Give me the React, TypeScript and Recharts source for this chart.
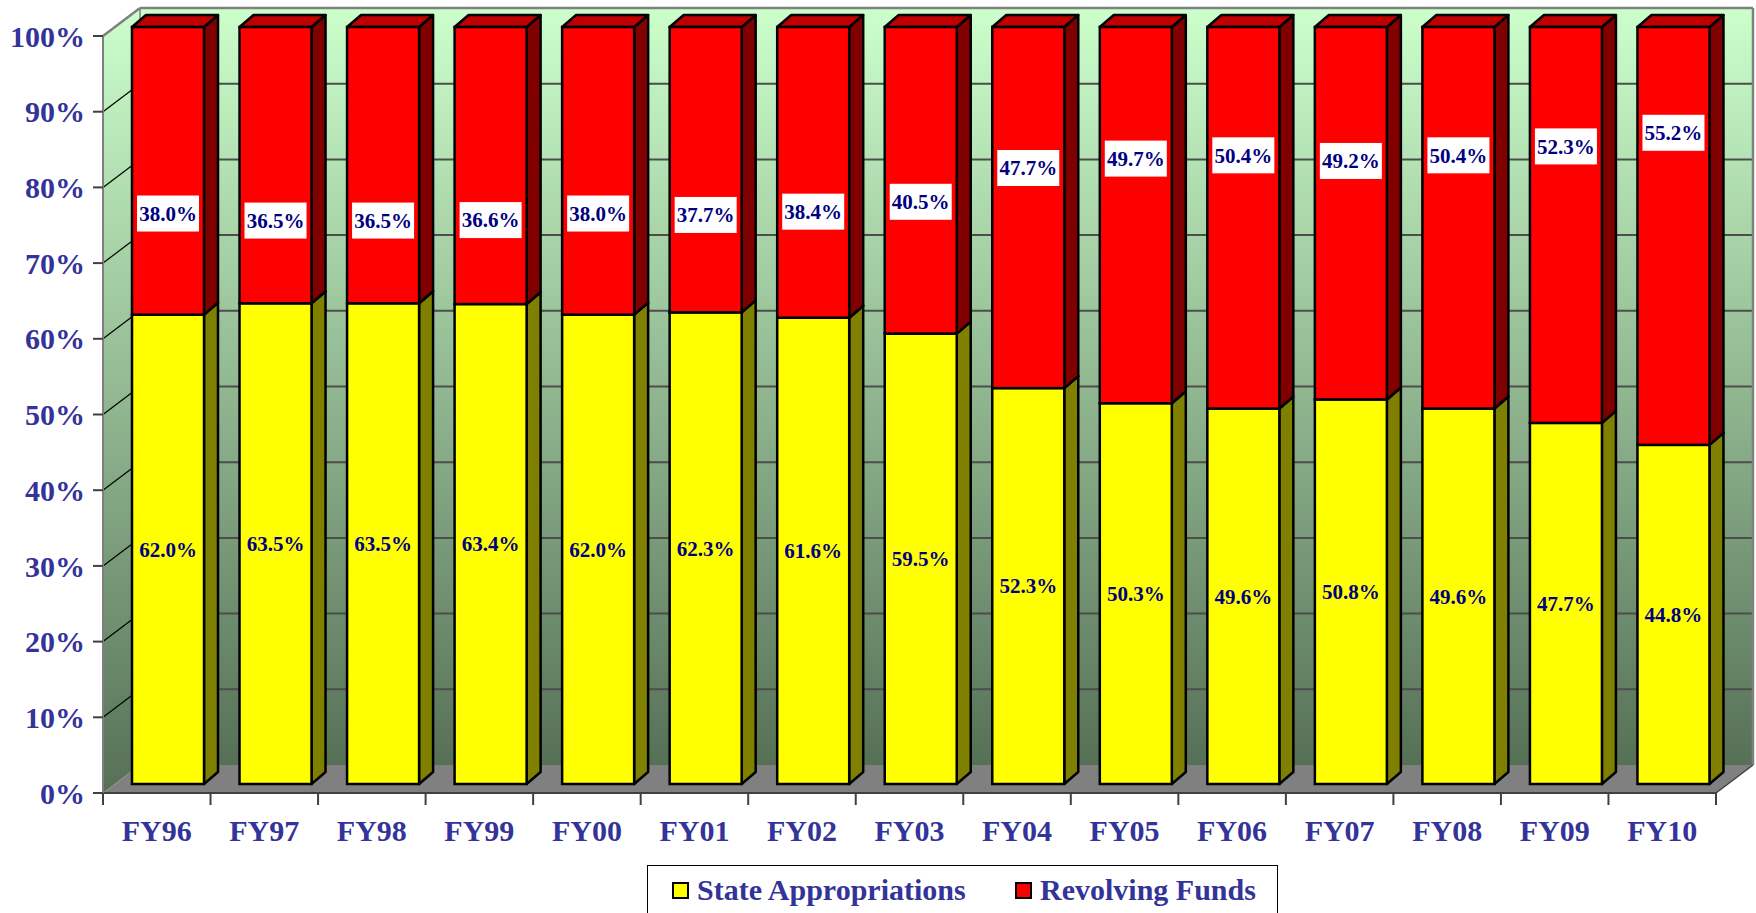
import React from "react";
import * as R from "recharts";
import { Bar, BarChart, Customized, LabelList, Legend, XAxis, YAxis } from "recharts";

const years = ["FY96", "FY97", "FY98", "FY99", "FY00", "FY01", "FY02", "FY03", "FY04", "FY05", "FY06", "FY07", "FY08", "FY09", "FY10"];
const stateAppropriations = [62.0, 63.5, 63.5, 63.4, 62.0, 62.3, 61.6, 59.5, 52.3, 50.3, 49.6, 50.8, 49.6, 47.7, 44.8];
const revolvingFunds = [38.0, 36.5, 36.5, 36.6, 38.0, 37.7, 38.4, 40.5, 47.7, 49.7, 50.4, 49.2, 50.4, 52.3, 55.2];
const yTicks = [0, 10, 20, 30, 40, 50, 60, 70, 80, 90, 100];
const seriesNames = ["State Appropriations", "Revolving Funds"];

const data = years.map((year, i) => ({
  year,
  state: stateAppropriations[i],
  revolving: revolvingFunds[i],
}));

const W = 1756;
const H = 913;
const MARGIN = { top: 36, right: 40, bottom: 60, left: 0 };
const Y_AXIS_W = 103;
const X_AXIS_H = 60;
const PLOT_LEFT = MARGIN.left + Y_AXIS_W;
const PLOT_TOP = MARGIN.top;
const PLOT_W = W - MARGIN.right - PLOT_LEFT;
const PLOT_H = H - MARGIN.bottom - X_AXIS_H - PLOT_TOP;
const PLOT_BOTTOM = PLOT_TOP + PLOT_H;

// fake 3d: walls sit behind the front plane, bars half way in
const WALL_DX = 37;
const WALL_DY = 28;
const BAR_DX = 11;
const BAR_DY = 9;
const DEPTH_DX = 14;
const DEPTH_DY = 12;
const OUTLINE = 2.5;

const SERIF = "'Liberation Serif', 'Times New Roman', serif";
const AXIS_BLUE = "#333399";
const LABEL_NAVY = "#000080";

const usePlot: () => any = (R as any).usePlotArea || (() => null);

function Walls() {
  const area = usePlot();
  const x = area?.x ?? PLOT_LEFT;
  const y = area?.y ?? PLOT_TOP;
  const width = area?.width ?? PLOT_W;
  const height = area?.height ?? PLOT_H;
  const bx = x + WALL_DX;
  const by = y - WALL_DY;
  const bottom = y + height;
  const tickY = (t: number) => y + height * (1 - t / 100);
  const inner = yTicks.filter((t) => t > 0 && t < 100);
  return (
    <g>
      <defs>
        <linearGradient id="wallFill" x1="0" y1="0" x2="0" y2="1">
          <stop offset="0%" stopColor="#CCFFCC" />
          <stop offset="100%" stopColor="#567056" />
        </linearGradient>
      </defs>
      <rect x={bx} y={by} width={width} height={height} fill="url(#wallFill)" />
      <polygon
        points={`${x},${y} ${bx},${by} ${bx},${by + height} ${x},${bottom}`}
        fill="url(#wallFill)"
      />
      <polygon
        points={`${x},${bottom} ${bx},${by + height} ${bx + width},${by + height} ${x + width},${bottom}`}
        fill="#808080"
      />
      {inner.map((t) => (
        <line
          key={"b" + t}
          x1={bx}
          x2={bx + width}
          y1={tickY(t) - WALL_DY}
          y2={tickY(t) - WALL_DY}
          stroke="#4d4d4d"
          strokeWidth={2}
        />
      ))}
      {inner.map((t) => (
        <line
          key={"l" + t}
          x1={x}
          y1={tickY(t)}
          x2={bx}
          y2={tickY(t) - WALL_DY}
          stroke="#000"
          strokeWidth={1.2}
        />
      ))}
      <line x1={bx} y1={by} x2={bx} y2={by + height} stroke="#808080" strokeWidth={1.5} />
      <line x1={x} y1={y} x2={bx} y2={by} stroke="#808080" strokeWidth={2.5} />
      <line x1={bx} y1={by} x2={bx + width} y2={by} stroke="#808080" strokeWidth={2.5} />
      <line x1={bx + width} y1={by} x2={bx + width} y2={by + height} stroke="#808080" strokeWidth={2.5} />
      <line x1={x + width} y1={bottom} x2={bx + width} y2={by + height} stroke="#404040" strokeWidth={1.5} />
    </g>
  );
}

const makeShape = (front: string, side: string, top: string) => (props: any) => {
  const { x, y, width, height } = props;
  if (width == null || height == null || isNaN(x) || isNaN(y)) return <g />;
  const fx = x + BAR_DX;
  const fy = y - BAR_DY;
  const w = width;
  const h = height;
  return (
    <g>
      <polygon
        points={`${fx + w},${fy} ${fx + w + DEPTH_DX},${fy - DEPTH_DY} ${fx + w + DEPTH_DX},${fy + h - DEPTH_DY} ${fx + w},${fy + h}`}
        fill={side}
        stroke="#000"
        strokeWidth={OUTLINE}
        strokeLinejoin="round"
      />
      <polygon
        points={`${fx},${fy} ${fx + DEPTH_DX},${fy - DEPTH_DY} ${fx + w + DEPTH_DX},${fy - DEPTH_DY} ${fx + w},${fy}`}
        fill={top}
        stroke="#000"
        strokeWidth={OUTLINE}
        strokeLinejoin="round"
      />
      <rect x={fx} y={fy} width={w} height={h} fill={front} stroke="#000" strokeWidth={OUTLINE} />
    </g>
  );
};

const yellowShape = makeShape("#FFFF00", "#808000", "#BFBF00");
const redShape = makeShape("#FF0000", "#800000", "#C00000");

const fmt = (v: any) => Number(v).toFixed(1) + "%";

function StateLabel(props: any) {
  const { x, y, width, height, value } = props;
  const cx = x + width / 2 + BAR_DX;
  const cy = y + height / 2 - BAR_DY;
  return (
    <text
      x={cx}
      y={cy}
      dy="0.35em"
      textAnchor="middle"
      fontFamily={SERIF}
      fontWeight="bold"
      fontSize={21}
      fill={LABEL_NAVY}
    >
      {fmt(value)}
    </text>
  );
}

// revolving labels sit higher in the red block as the share grows
function RevLabel(props: any) {
  const { x, y, width, height, value } = props;
  const v = Number(value);
  const perPct = height / v;
  const pos = 51.8 + 0.62 * v;
  const cx = x + width / 2 + BAR_DX;
  const cy = y + (100 - pos) * perPct - BAR_DY;
  return (
    <g>
      <rect x={cx - 31} y={cy - 18} width={62} height={36} fill="#fff" />
      <text
        x={cx}
        y={cy}
        dy="0.35em"
        textAnchor="middle"
        fontFamily={SERIF}
        fontWeight="bold"
        fontSize={21}
        fill={LABEL_NAVY}
      >
        {fmt(v)}
      </text>
    </g>
  );
}

function XTick(props: any) {
  const { x, payload, index } = props;
  const half = PLOT_W / years.length / 2;
  const y0 = PLOT_BOTTOM;
  return (
    <g>
      <line x1={x - half} y1={y0} x2={x - half} y2={y0 + 12} stroke="#404040" strokeWidth={2} />
      {index === years.length - 1 && (
        <line x1={x + half} y1={y0} x2={x + half} y2={y0 + 12} stroke="#404040" strokeWidth={2} />
      )}
      <text
        x={x}
        y={y0 + 48}
        textAnchor="middle"
        fontFamily={SERIF}
        fontWeight="bold"
        fontSize={30}
        fill={AXIS_BLUE}
      >
        {payload.value}
      </text>
    </g>
  );
}

const legendSpots = [25, 368];

function LegendBox(props: any) {
  const items = [...(props.payload || [])].sort(
    (a: any, b: any) => seriesNames.indexOf(a.value) - seriesNames.indexOf(b.value)
  );
  return (
    <div
      style={{
        boxSizing: "border-box",
        position: "relative",
        width: 631,
        height: 60,
        border: "1px solid #000",
        background: "#fff",
      }}
    >
      {items.map((item: any, i: number) => (
        <div key={item.value} style={{ position: "absolute", left: legendSpots[i] - 1, top: 0 }}>
          <div
            style={{
              position: "absolute",
              left: 0,
              top: 16,
              width: 13,
              height: 13,
              border: "2.5px solid #000",
              background: item.color,
            }}
          />
          <div
            style={{
              position: "absolute",
              left: 25,
              top: 9,
              whiteSpace: "nowrap",
              fontFamily: SERIF,
              fontWeight: "bold",
              fontSize: 30,
              lineHeight: "30px",
              color: AXIS_BLUE,
            }}
          >
            {item.value}
          </div>
        </div>
      ))}
    </div>
  );
}

export default function App() {
  return (
    <div
      style={{
        position: "absolute",
        left: 0,
        top: 0,
        width: W,
        height: H,
        background: "#fff",
        overflow: "hidden",
      }}
    >
      <BarChart width={W} height={H} data={data} margin={MARGIN} barSize={72}>
        <Customized component={<Walls />} />
        <XAxis
          dataKey="year"
          height={X_AXIS_H}
          interval={0}
          axisLine={{ stroke: "#404040", strokeWidth: 2 }}
          tickLine={false}
          tick={<XTick />}
        />
        <YAxis
          type="number"
          domain={[0, 100]}
          ticks={yTicks}
          interval={0}
          width={Y_AXIS_W}
          tickSize={10}
          tickMargin={8}
          tickFormatter={(v) => v + "%"}
          axisLine={{ stroke: "#808080", strokeWidth: 2 }}
          tickLine={{ stroke: "#404040", strokeWidth: 2 }}
          tick={{ fontSize: 30, fontWeight: "bold", fill: AXIS_BLUE, fontFamily: SERIF }}
        />
        <Legend
          layout="horizontal"
          verticalAlign="middle"
          align="center"
          width={631}
          wrapperStyle={{ left: 647, top: 865, width: 631, height: 60 }}
          content={LegendBox}
        />
        <Bar
          dataKey="state"
          name={seriesNames[0]}
          stackId="a"
          fill="#FFFF00"
          shape={yellowShape}
          isAnimationActive={false}
        >
          <LabelList dataKey="state" content={StateLabel} />
        </Bar>
        <Bar
          dataKey="revolving"
          name={seriesNames[1]}
          stackId="a"
          fill="#FF0000"
          shape={redShape}
          isAnimationActive={false}
        >
          <LabelList dataKey="revolving" content={RevLabel} />
        </Bar>
      </BarChart>
    </div>
  );
}
